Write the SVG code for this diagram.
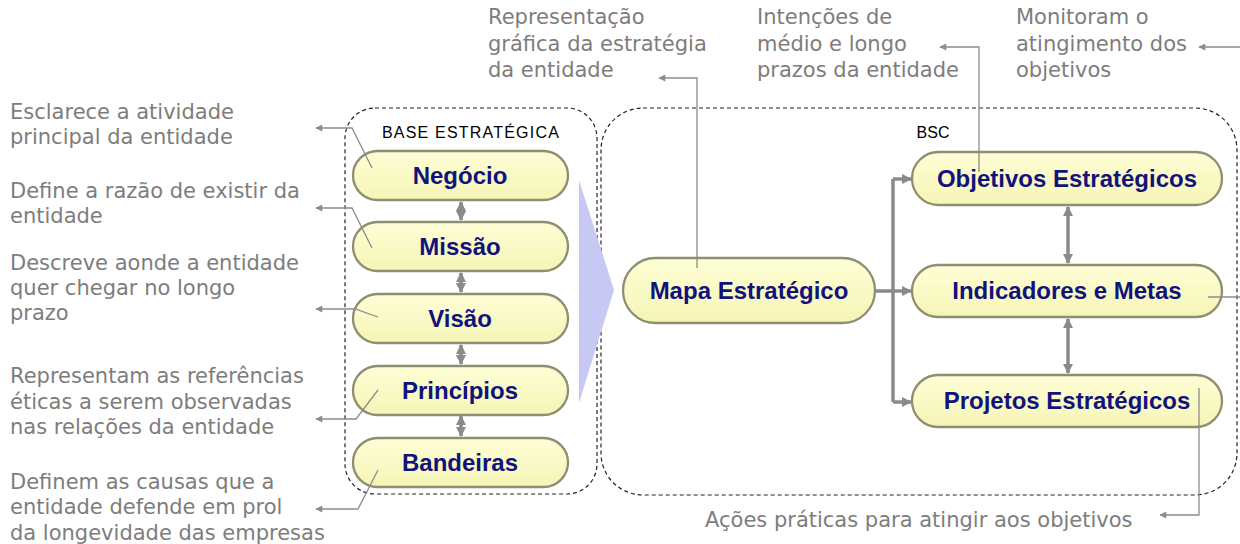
<svg xmlns="http://www.w3.org/2000/svg" width="1240" height="544" viewBox="0 0 1240 544">
<style>
.note{font-family:"DejaVu Sans",sans-serif;font-size:21px;fill:#7d7d7d}
.pt{font-family:"Liberation Sans",Arial,sans-serif;font-weight:bold;font-size:24px;fill:#12127c;text-anchor:middle}
.hdr{font-family:"Liberation Sans",Arial,sans-serif;font-size:16px;fill:#000}
.pill{fill:url(#pg);stroke:#8e8e70;stroke-width:2.3}
.box{fill:none;stroke:#222;stroke-width:1.2;stroke-dasharray:4 3}
.thin{fill:none;stroke:#8c8c8c;stroke-width:1.3;marker-end:url(#ah)}
.thick{fill:none;stroke:#8a8a8a;stroke-width:3.5}
.tarrow{marker-end:url(#th)}
.dbl{fill:none;stroke:#8a8a8a;stroke-width:3.5;marker-start:url(#th);marker-end:url(#th)}
</style>
<defs>
<linearGradient id="pg" x1="0" y1="0" x2="0" y2="1">
<stop offset="0" stop-color="#fefed6"/>
<stop offset="1" stop-color="#f5f5b6"/>
</linearGradient>
<marker id="ah" viewBox="0 0 10 10" refX="9" refY="5" markerWidth="10" markerHeight="7" markerUnits="userSpaceOnUse" orient="auto"><path d="M0,0 L10,5 L0,10 z" fill="#8c8c8c"/></marker>
<marker id="th" viewBox="0 0 10 10" refX="9" refY="5" markerWidth="10" markerHeight="10" markerUnits="userSpaceOnUse" orient="auto-start-reverse"><path d="M0,0 L10,5 L0,10 z" fill="#8a8a8a"/></marker>
</defs>
<rect width="1240" height="544" fill="#fff"/>

<g id="base-estrategica">
<rect class="box" x="345" y="108" width="252" height="386" rx="30"/>
<text class="hdr" x="471" y="138" text-anchor="middle" letter-spacing="1.2">BASE  ESTRATÉGICA</text>
</g>
<g id="bsc">
<rect class="box" x="601" y="108" width="636" height="387" rx="42"/>
<text class="hdr" x="933" y="138" text-anchor="middle">BSC</text>
</g>

<polygon id="seta-grande" points="579,180 614,290 579,403" fill="#c8c8f5"/>

<g id="notas">
<text class="note" x="10" y="119">Esclarece a atividade</text>
<text class="note" x="10" y="144">principal da entidade</text>
<text class="note" x="10" y="198">Define a razão de existir da</text>
<text class="note" x="10" y="223">entidade</text>
<text class="note" x="10" y="270">Descreve aonde a entidade</text>
<text class="note" x="10" y="295">quer chegar no longo</text>
<text class="note" x="10" y="320">prazo</text>
<text class="note" x="10" y="383">Representam as referências</text>
<text class="note" x="10" y="409">éticas a serem observadas</text>
<text class="note" x="10" y="434">nas relações da entidade</text>
<text class="note" x="10" y="489">Definem as causas que a</text>
<text class="note" x="10" y="514">entidade defende em prol</text>
<text class="note" x="10" y="540">da longevidade das empresas</text>
<text class="note" x="488" y="24">Representação</text>
<text class="note" x="488" y="51">gráfica da estratégia</text>
<text class="note" x="488" y="77">da entidade</text>
<text class="note" x="757" y="24">Intenções de</text>
<text class="note" x="757" y="51">médio e longo</text>
<text class="note" x="757" y="77">prazos da entidade</text>
<text class="note" x="1016" y="24">Monitoram o</text>
<text class="note" x="1016" y="51">atingimento dos</text>
<text class="note" x="1016" y="77">objetivos</text>
<text class="note" x="705" y="527">Ações práticas para atingir aos objetivos</text>
</g>

<g id="negocio"><rect class="pill" x="353" y="151" width="215" height="49" rx="24.5"/><text class="pt" x="460" y="184">Negócio</text></g>
<g id="missao"><rect class="pill" x="353" y="222" width="215" height="49" rx="24.5"/><text class="pt" x="460" y="255">Missão</text></g>
<g id="visao"><rect class="pill" x="353" y="294" width="215" height="49" rx="24.5"/><text class="pt" x="460" y="327">Visão</text></g>
<g id="principios"><rect class="pill" x="353" y="366" width="215" height="49" rx="24.5"/><text class="pt" x="460" y="399">Princípios</text></g>
<g id="bandeiras"><rect class="pill" x="353" y="438" width="215" height="49" rx="24.5"/><text class="pt" x="460" y="471">Bandeiras</text></g>
<g id="mapa"><rect class="pill" x="623" y="258" width="252" height="65" rx="32.5"/><text class="pt" x="749" y="299">Mapa Estratégico</text></g>
<g id="objetivos"><rect class="pill" x="912" y="152" width="310" height="53" rx="26.5"/><text class="pt" x="1067" y="187">Objetivos Estratégicos</text></g>
<g id="indicadores"><rect class="pill" x="912" y="265" width="310" height="52" rx="26"/><text class="pt" x="1067" y="299">Indicadores e Metas</text></g>
<g id="projetos"><rect class="pill" x="912" y="375" width="310" height="52" rx="26"/><text class="pt" x="1067" y="409">Projetos Estratégicos</text></g>

<g id="conectores">
<path class="thin" d="M372,168 L352,128 L316,128"/>
<path class="thin" d="M372,248 L352,208 L316,208"/>
<path class="thin" d="M378,317 L355,309 L316,309"/>
<path class="thin" d="M378,390 L356,419 L316,419"/>
<path class="thin" d="M378,470 L358,509 L316,509"/>
<path class="thin" d="M697,268 L697,78 L659,78"/>
<path class="thin" d="M979,172 L979,47 L940,47"/>
<path class="thin" d="M1208,297 L1243,297 L1243,47 L1199,47"/>
<path class="thin" d="M1199,388 L1199,515 L1160,515"/>
<path class="dbl" d="M461,202 L461,220"/>
<path class="dbl" d="M461,273 L461,292"/>
<path class="dbl" d="M461,345 L461,364"/>
<path class="dbl" d="M461,416 L461,436"/>
<path class="dbl" d="M1068,207 L1068,263"/>
<path class="dbl" d="M1068,319 L1068,373"/>
<path class="thick" d="M875,291 L893,291"/>
<path class="thick" d="M893,179 L893,402"/>
<path class="thick tarrow" d="M893,179 L911,179"/>
<path class="thick tarrow" d="M893,291 L911,291"/>
<path class="thick tarrow" d="M893,402 L911,402"/>
</g>
</svg>
